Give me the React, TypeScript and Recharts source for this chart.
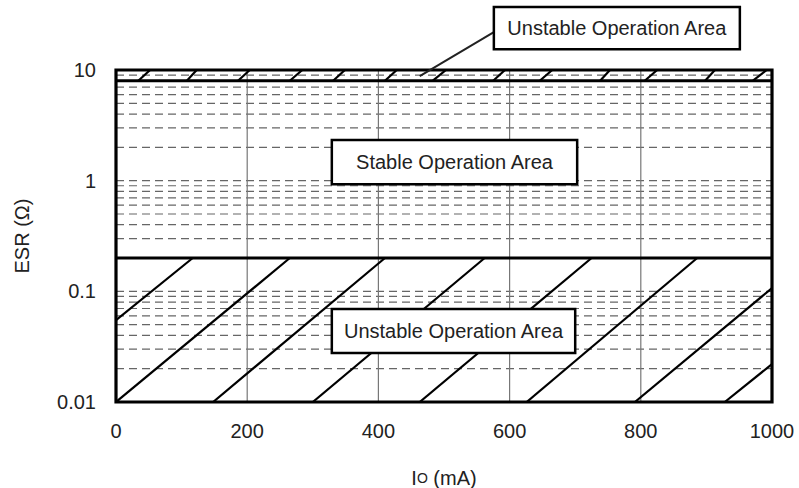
import { ComposedChart, Line, XAxis, YAxis, ReferenceLine, ReferenceArea } from 'recharts'

const X_TICKS = [0, 200, 400, 600, 800, 1000]
const Y_TICKS = [0.01, 0.1, 1, 10]
const V_GRID = [200, 400, 600, 800]
// minor log grid values (dashed)
const H_GRID = [
  0.02, 0.03, 0.04, 0.05, 0.06, 0.07, 0.08, 0.09, 0.1,
  0.2, 0.3, 0.4, 0.5, 0.6, 0.7, 0.8, 0.9, 1,
  2, 3, 4, 5, 6, 7, 8, 9,
]

// boundaries of the unstable regions
const LOWER_LIMIT = 0.2
const UPPER_LIMIT = 8

// hatch segments of the lower unstable area [x1, y1, x2, y2]
const LOWER_HATCH: number[][] = [
  [0, 0.055, 117, 0.2],
  [0, 0.01, 265, 0.2],
  [148, 0.01, 410, 0.2],
  [300, 0.01, 562, 0.2],
  [463, 0.01, 725, 0.2],
  [626, 0.01, 886, 0.2],
  [791, 0.01, 1000, 0.107],
  [928, 0.01, 1000, 0.022],
]

// short hatch ticks in the upper band (8 -> 10), x at bottom and top
const UPPER_HATCH: number[][] = [
  [34, 52], [108, 123], [186, 204], [265, 284], [331, 349], [410, 428], [483, 503],
  [575, 593], [646, 665], [738, 753], [806, 825], [898, 913], [971, 992],
]

const hatchSeries = [
  ...LOWER_HATCH.map(([x1, y1, x2, y2]) => [{ x: x1, y: y1 }, { x: x2, y: y2 }]),
  ...UPPER_HATCH.map(([x1, x2]) => [{ x: x1, y: UPPER_LIMIT }, { x: x2, y: 10 }]),
]

const FONT = '"Liberation Sans", Arial, Helvetica, sans-serif'
const TEXT = '#222'

function YLabel(props: any) {
  const { viewBox } = props
  const x = viewBox.x + 22
  const y = viewBox.y + viewBox.height / 2
  return (
    <text x={x} y={y} transform={`rotate(-90 ${x} ${y})`} textAnchor="middle" dominantBaseline="central"
      fontFamily={FONT} fontSize={20} fill={TEXT}>
      ESR (Ω)
    </text>
  )
}

function XLabel(props: any) {
  const { viewBox } = props
  const x = viewBox.x + viewBox.width / 2
  const y = viewBox.y + 76
  return (
    <text x={x} y={y} textAnchor="middle" dominantBaseline="central" fontFamily={FONT} fontSize={20} fill={TEXT}>
      <tspan>I</tspan>
      <tspan fontSize={14}>O</tspan>
      <tspan> (mA)</tspan>
    </text>
  )
}

const boxLabel = (value: string) => ({ value, position: 'center' as const, fill: TEXT, fontSize: 20, fontFamily: FONT })

export default function App() {
  return (
    <div style={{ position: 'absolute', left: 0, top: 0, background: '#fff' }}>
      <ComposedChart width={799} height={488} margin={{ top: 70, right: 27, bottom: 0, left: 0 }}>
        <XAxis
          type="number"
          dataKey="x"
          domain={[0, 1000]}
          ticks={X_TICKS}
          allowDataOverflow
          height={86}
          axisLine={false}
          tickLine={false}
          tickSize={8}
          tickMargin={14}
          tick={{ fill: TEXT, fontSize: 20, fontFamily: FONT }}
          label={<XLabel />}
        />
        <YAxis
          type="number"
          dataKey="y"
          scale="log"
          domain={[0.01, 10]}
          ticks={Y_TICKS}
          allowDataOverflow
          width={116}
          axisLine={false}
          tickLine={false}
          tickSize={8}
          tickMargin={12}
          tickFormatter={(v) => String(v)}
          tick={{ fill: TEXT, fontSize: 20, fontFamily: FONT }}
          label={<YLabel />}
        />
        {H_GRID.map((v) => (
          <ReferenceLine key={'h' + v} y={v} stroke="#666" strokeWidth={1.2} strokeDasharray="8 5" />
        ))}
        {V_GRID.map((v) => (
          <ReferenceLine key={'v' + v} x={v} stroke="#777" strokeWidth={1.2} />
        ))}
        {hatchSeries.map((d, i) => (
          <Line key={'hs' + i} data={d} dataKey="y" stroke="#000" strokeWidth={2.2} dot={false}
            activeDot={false} isAnimationActive={false} legendType="none" />
        ))}
        <ReferenceLine y={LOWER_LIMIT} stroke="#000" strokeWidth={3} />
        <ReferenceLine y={UPPER_LIMIT} stroke="#000" strokeWidth={3} />
        <ReferenceArea x1={0} x2={1000} y1={0.01} y2={10} fill="none" stroke="#000" strokeWidth={3.2} zIndex={1000} />
        <ReferenceLine segment={[{ x: 576, y: 22 }, { x: 463, y: 8.8 }]} stroke="#222" strokeWidth={2}
          ifOverflow="visible" zIndex={1000} />
        <ReferenceArea x1={329} x2={703} y1={0.93} y2={2.33} fill="#fff" fillOpacity={1} stroke="#000"
          strokeWidth={2.5} zIndex={1500} label={boxLabel('Stable Operation Area')} />
        <ReferenceArea x1={329} x2={700} y1={0.0277} y2={0.0692} fill="#fff" fillOpacity={1} stroke="#000"
          strokeWidth={2.5} zIndex={1500} label={boxLabel('Unstable Operation Area')} />
        <ReferenceArea x1={576} x2={951} y1={15.4} y2={37} fill="#fff" fillOpacity={1} stroke="#000"
          strokeWidth={2.5} ifOverflow="visible" zIndex={1500} label={boxLabel('Unstable Operation Area')} />
      </ComposedChart>
    </div>
  )
}
